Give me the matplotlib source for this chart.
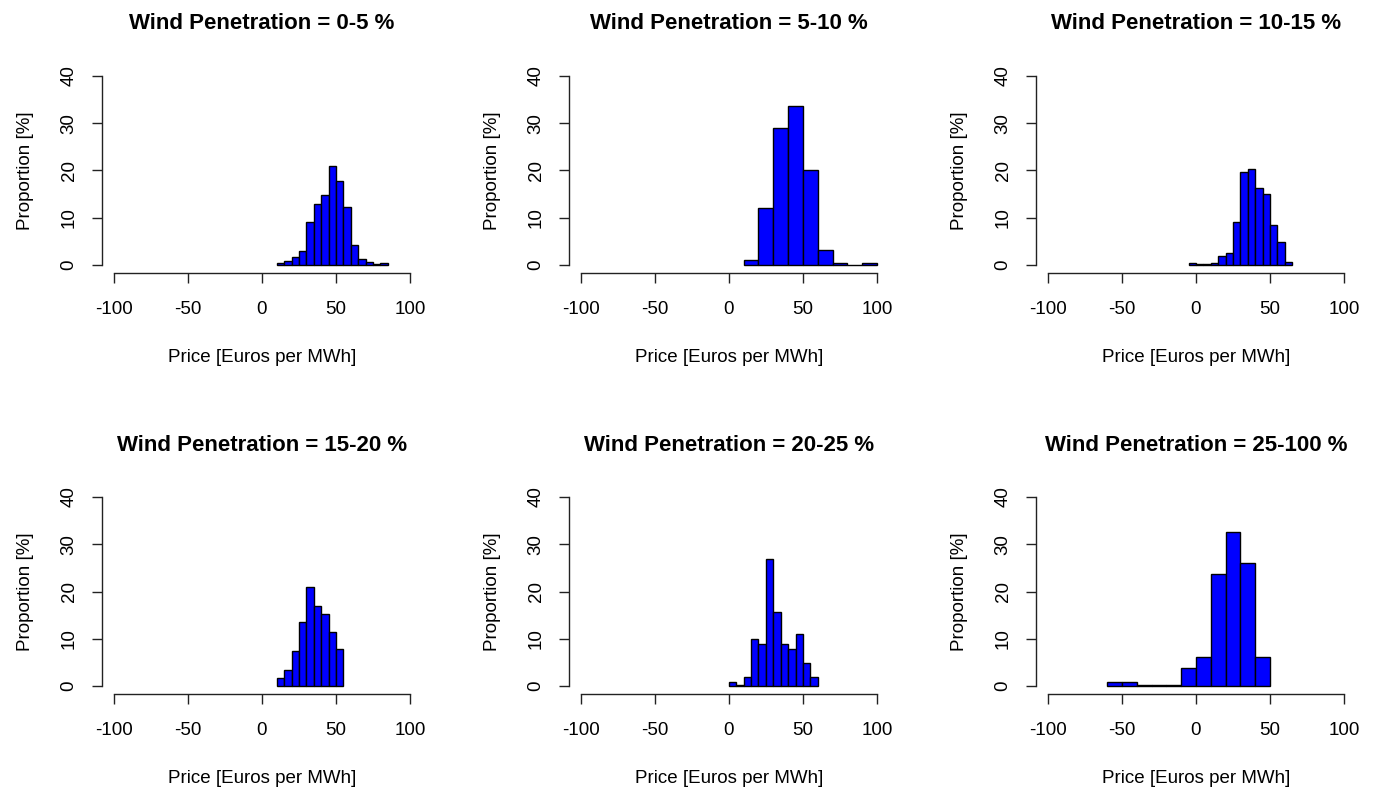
import numpy as np
import matplotlib
matplotlib.use('Agg')
import matplotlib.pyplot as plt

plt.rcParams['font.family'] = ['Liberation Sans', 'DejaVu Sans']

# Titulos de cada painel
titles = ['Wind Penetration = 0-5 %', 'Wind Penetration = 5-10 %',
          'Wind Penetration = 10-15 %', 'Wind Penetration = 15-20 %',
          'Wind Penetration = 20-25 %', 'Wind Penetration = 25-100 %']

# Bordas dos bins e proporcoes (%)
edges_1 = np.arange(10, 86, 5)
prop_1 = [0.4, 0.85, 1.7, 3.0, 9.1, 13.0, 14.7, 21.0, 17.7, 12.3, 4.2, 1.2, 0.6, 0.15, 0.4]

edges_2 = np.arange(10, 101, 10)
prop_2 = [1.1, 12.0, 28.9, 33.6, 20.0, 3.2, 0.5, 0.1, 0.35]

edges_3 = np.arange(-5, 66, 5)
prop_3 = [0.35, 0.15, 0.2, 0.35, 1.9, 2.6, 9.1, 19.7, 20.2, 16.2, 15.1, 8.4, 4.9, 0.7]

edges_4 = np.arange(10, 56, 5)
prop_4 = [1.7, 3.5, 7.4, 13.5, 20.9, 17.0, 15.3, 11.4, 7.9]

edges_5 = np.arange(0, 61, 5)
prop_5 = [0.9, 0.2, 2.0, 9.9, 8.9, 26.8, 15.7, 8.9, 7.8, 11.0, 4.9, 2.0]

edges_6 = np.arange(-60, 51, 10)
prop_6 = [0.8, 0.8, 0.15, 0.15, 0.15, 3.8, 6.1, 23.7, 32.5, 26.0, 6.1]

x_ticks = [-100, -50, 0, 50, 100]
y_ticks = [0, 10, 20, 30, 40]

all_edges = [edges_1, edges_2, edges_3, edges_4, edges_5, edges_6]
all_props = [prop_1, prop_2, prop_3, prop_4, prop_5, prop_6]

fig = plt.figure(figsize=(13.74, 7.9), dpi=100)

# posicoes dos paineis (fracao da figura), estilo R base graphics
lefts = [0.0742, 0.414, 0.754]
bottoms = [0.655, 0.122]
w, h = 0.2329, 0.2585


def draw_panel(ax, edges, props, title):
    widths = np.diff(edges)
    ax.bar(edges[:-1], props, width=widths, align='edge',
           color='#0000FF', edgecolor='black', linewidth=1.0)
    ax.set_xlim(-108, 108)
    ax.set_ylim(-1.6, 41.6)
    ax.set_xticks(x_ticks)
    ax.set_yticks(y_ticks)
    ax.set_xticklabels([str(t) for t in x_ticks])
    ax.set_yticklabels([str(t) for t in y_ticks], rotation=90, va='center')
    for s in ['top', 'right']:
        ax.spines[s].set_visible(False)
    ax.spines['bottom'].set_bounds(-100, 100)
    ax.spines['left'].set_bounds(0, 40)
    for s in ['bottom', 'left']:
        ax.spines[s].set_color('#222222')
        ax.spines[s].set_linewidth(1.0)
    ax.tick_params(axis='x', length=7.5, width=1.0, pad=13, labelsize=13.5, color='#222222')
    ax.tick_params(axis='y', length=7.5, width=1.0, pad=10, labelsize=13.5, color='#222222')
    ax.set_xlabel('Price [Euros per MWh]', fontsize=13.5, labelpad=22)
    ax.set_ylabel('Proportion [%]', fontsize=13.5, labelpad=19)
    ax.set_title(title, fontsize=16, fontweight='bold', pad=28)
    ax.patch.set_visible(False)


for i in range(6):
    row, col = divmod(i, 3)
    ax = fig.add_axes([lefts[col], bottoms[row], w, h])
    draw_panel(ax, all_edges[i], all_props[i], titles[i])

plt.savefig('out.png', dpi=100)
plt.close()
